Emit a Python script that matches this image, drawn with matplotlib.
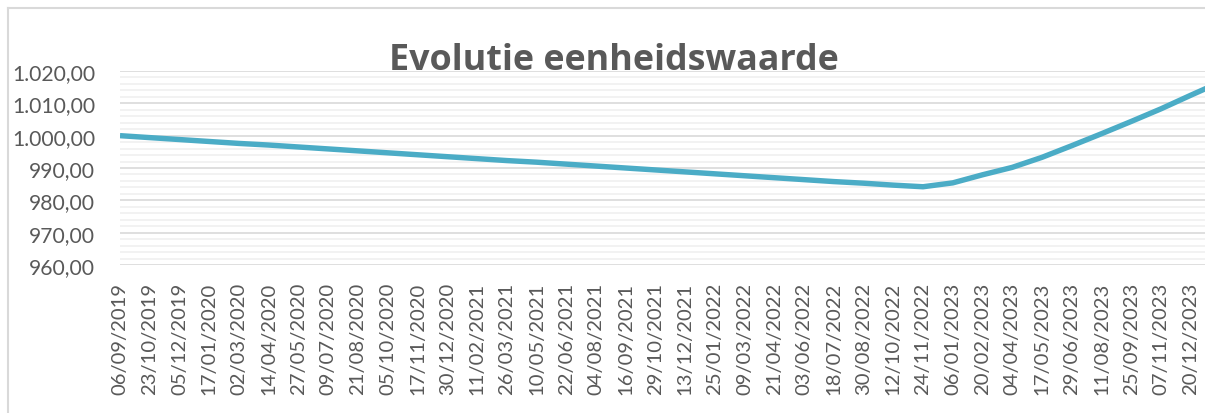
import matplotlib
matplotlib.use("Agg")
import matplotlib.pyplot as plt
import matplotlib.transforms as mtransforms
from matplotlib.ticker import MultipleLocator, FuncFormatter
from matplotlib.lines import Line2D

# Labelled category dates (one tick label each)
dates = ["06/09/2019", "23/10/2019", "05/12/2019", "17/01/2020", "02/03/2020", "14/04/2020",
         "27/05/2020", "09/07/2020", "21/08/2020", "05/10/2020", "17/11/2020", "30/12/2020",
         "11/02/2021", "26/03/2021", "10/05/2021", "22/06/2021", "04/08/2021", "16/09/2021",
         "29/10/2021", "13/12/2021", "25/01/2022", "09/03/2022", "21/04/2022", "03/06/2022",
         "18/07/2022", "30/08/2022", "12/10/2022", "24/11/2022", "06/01/2023", "20/02/2023",
         "04/04/2023", "17/05/2023", "29/06/2023", "11/08/2023", "25/09/2023", "07/11/2023",
         "20/12/2023"]

# Unit value at each labelled date, plus one final (unlabelled) point after 20/12/2023
values = [1000.0, 999.4, 998.8, 998.2, 997.6, 997.1, 996.5, 995.9, 995.3, 994.7,
          994.1, 993.5, 992.9, 992.3, 991.8, 991.2, 990.6, 990.0, 989.4, 988.8,
          988.2, 987.6, 987.0, 986.4, 985.8, 985.3, 984.7, 984.2, 985.4, 987.9,
          990.2, 993.3, 996.9, 1000.6, 1004.4, 1008.3, 1012.5, 1016.6]

title = "Evolutie eenheidswaarde"

W, H = 1205, 414
fig = plt.figure(figsize=(W / 100, H / 100), dpi=100)
fig.patch.set_facecolor("white")

ax = fig.add_axes([120 / W, 1 - 266 / H, (W - 120) / W, (266 - 72) / H])
x = list(range(len(values)))
ax.plot(x, values, color="#4BACC6", lw=3.9, solid_capstyle="butt", solid_joinstyle="round", zorder=3)

ax.set_xlim(0, 36.48)
ax.set_ylim(960, 1020)
ax.yaxis.set_major_locator(MultipleLocator(10))
ax.yaxis.set_minor_locator(MultipleLocator(2))

def nl(v, pos):
    s = f"{v:,.2f}"
    return s.replace(",", "X").replace(".", ",").replace("X", ".")

ax.yaxis.set_major_formatter(FuncFormatter(nl))
ax.grid(True, which="major", axis="y", color="#d9d9d9", lw=1.2, zorder=1)
ax.grid(True, which="minor", axis="y", color="#f0f0f0", lw=1.2, zorder=0)

ax.set_xticks(range(len(dates)))
ax.set_xticklabels(dates, rotation=90, fontsize=14.6, color="#595959", family="Lato")
shift = mtransforms.ScaledTranslation(5.5 / 100, 0, fig.dpi_scale_trans)
for lab in ax.get_xticklabels():
    lab.set_transform(lab.get_transform() + shift)
ax.tick_params(axis="x", length=0, pad=12)
ax.tick_params(axis="y", which="both", length=0, pad=18, labelsize=15.2, labelcolor="#595959")
for lab in ax.get_yticklabels():
    lab.set_family("Lato")
for s in ax.spines.values():
    s.set_visible(False)

fig.text(614 / W, 1 - 69.5 / H, title, ha="center", va="baseline", fontsize=25.8,
         fontweight="bold", color="#595959", family="Open Sans")

# chart-area border (left and top visible)
fig.add_artist(Line2D([8 / W, 8 / W], [0, 1 - 9 / H], transform=fig.transFigure, color="#d9d9d9", lw=1.5))
fig.add_artist(Line2D([8 / W, 1], [1 - 9 / H, 1 - 9 / H], transform=fig.transFigure, color="#d9d9d9", lw=1.5))

fig.savefig("out.png", dpi=100)
